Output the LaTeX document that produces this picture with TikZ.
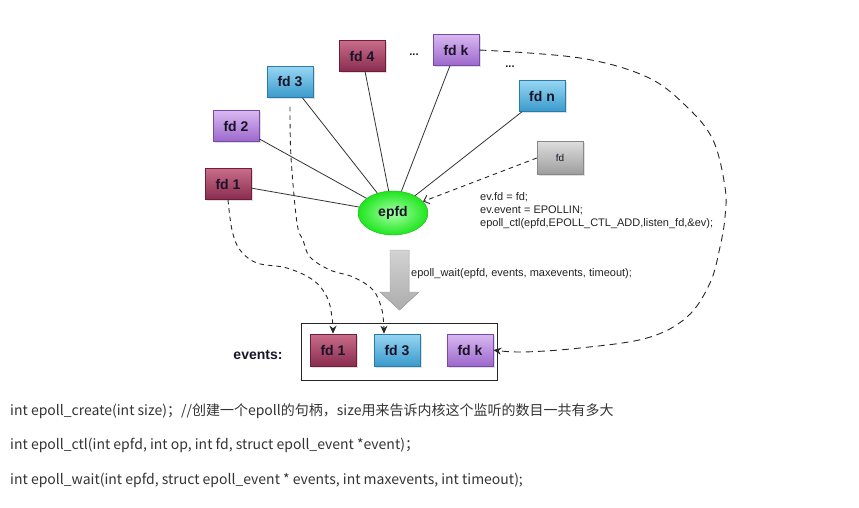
\documentclass[tikz,border=0pt]{standalone}
\usepackage{fontspec}
\setmainfont{Liberation Sans}
\newfontfamily\cjk{Noto Sans CJK SC}
\usetikzlibrary{arrows.meta,shapes.geometric,shadows}
\definecolor{marT}{HTML}{C96D8A}
\definecolor{marB}{HTML}{8A2C4E}
\definecolor{marD}{HTML}{6E1E3A}
\definecolor{purT}{HTML}{D9B8F0}
\definecolor{purB}{HTML}{9C68CC}
\definecolor{purD}{HTML}{7A48A8}
\definecolor{bluT}{HTML}{96D6F2}
\definecolor{bluB}{HTML}{3A9ACC}
\definecolor{bluD}{HTML}{2A7CA8}
\definecolor{gryT}{HTML}{DDDDDD}
\definecolor{gryB}{HTML}{9C9C9C}
\definecolor{gryD}{HTML}{888888}
\definecolor{txtc}{HTML}{1A1428}
\definecolor{linec}{HTML}{333333}
\definecolor{codec}{HTML}{222222}
\definecolor{bottomc}{HTML}{333333}
\definecolor{grnI}{HTML}{A8FFA8}
\definecolor{grnO}{HTML}{1EE61E}
\tikzset{
  fdbox/.style={draw, line width=0.6pt, minimum width=46pt, minimum height=31pt, inner sep=0pt,
    font=\fontsize{14}{16}\selectfont\bfseries, text=txtc,
    drop shadow={shadow xshift=1.5pt, shadow yshift=-1.5pt, opacity=0.25}},
  marbox/.style={fdbox, top color=marT, bottom color=marB, draw=marD},
  purbox/.style={fdbox, top color=purT, bottom color=purB, draw=purD},
  blubox/.style={fdbox, top color=bluT, bottom color=bluB, draw=bluD},
  grybox/.style={fdbox, minimum height=33pt, top color=gryT, bottom color=gryB, draw=gryD,
    font=\fontsize{10}{12}\selectfont},
  link/.style={draw=linec, line width=0.8pt},
  dashlink/.style={draw=black!85, line width=0.9pt, dash pattern=on 4.5pt off 4pt,
    -{Stealth[length=8pt,width=7pt]}},
  codetext/.style={font=\fontsize{11}{13}\selectfont, text=codec, align=left, inner sep=0pt},
  bottomtext/.style={font=\cjk\fontsize{14}{16}\selectfont, text=bottomc, anchor=west, inner sep=0pt},
  dots/.style={font=\fontsize{11}{12}\selectfont\bfseries, text=txtc, inner sep=0pt}
}
\begin{document}
\begin{tikzpicture}[x=1pt,y=-1pt]
\useasboundingbox (0,0) rectangle (859,507);
% source descriptors
\node[marbox] (fd4) at (362,56) {fd 4};
\node[purbox] (fdk) at (456,50) {fd k};
\node[blubox] (fd3) at (290,82) {fd 3};
\node[blubox] (fdn) at (542,96) {fd n};
\node[purbox] (fd2) at (236,126) {fd 2};
\node[marbox] (fd1) at (228,184) {fd 1};
\node[grybox] (fdg) at (560,158) {fd};
\node[dots] (dotsA) at (414,55) {...};
\node[dots] (dotsB) at (510,67) {...};
% epfd
\node[ellipse, minimum width=70pt, minimum height=44pt, inner sep=0pt, inner color=grnI, outer color=grnO,
  draw=grnO!80!black, line width=0.4pt, font=\fontsize{14}{16}\selectfont\bfseries, text=txtc] (epfd) at (393,213) {epfd};
% solid links
\draw[link] (epfd) -- (fd1);
\draw[link] (epfd) -- (fd2);
\draw[link] (epfd) -- (fd3);
\draw[link] (epfd) -- (fd4);
\draw[link] (epfd) -- (fdk);
\draw[link] (epfd) -- (fdn);
% new fd
\draw[draw=black!85, line width=0.9pt, dash pattern=on 4.5pt off 4pt, -{Straight Barb[length=5pt,width=9pt]}] (fdg.west) -- (epfd);
\node[codetext, anchor=north west] (code) at (480,192) {ev.fd = fd;\\ev.event = EPOLLIN;\\epoll\_ctl(epfd,EPOLL\_CTL\_ADD,listen\_fd,\&ev);};
% big arrow
\fill[top color=gray!35, bottom color=gray!65, draw=gray!70] (390,250) -- (409,250) -- (409,292) -- (419,292) -- (399.5,310) -- (380,292) -- (390,292) -- cycle;
\node[codetext, anchor=west] (waitlbl) at (411,274) {epoll\_wait(epfd, events, maxevents, timeout);};
% events array
\node[draw=black!85, line width=1pt, minimum width=196pt, minimum height=57pt, inner sep=0pt] (evbox) at (399,351.5) {};
\node[font=\fontsize{14}{16}\selectfont\bfseries, text=txtc, inner sep=0pt] (evlbl) at (258,355) {events:};
\node[marbox, minimum height=32pt] (ev1) at (333,350) {fd 1};
\node[blubox, minimum height=32pt] (ev3) at (397,350) {fd 3};
\node[purbox, minimum height=32pt] (evk) at (470,350) {fd k};
% dashed ready paths
\draw[dashlink] plot[smooth, tension=0.6] coordinates {(fd1.south) (232,230) (240,250) (257,263) (287,268) (313,280) (327,297) (332,317) (ev1.north)};
\draw[dashlink] plot[smooth, tension=0.6] coordinates {([yshift=-9pt]fd3.south) (291,157) (297,223) (303,240) (310,257) (330,270) (353,277) (373,290) (382,310) ([xshift=-13pt]ev3.north)};
\draw[dashlink, dash pattern=on 7pt off 5pt] plot[smooth, tension=0.6] coordinates {(fdk.east) (580,58) (647,77) (687,107) (713,140) (725,187) (725,217) (720,247) (710,283) (687,317) (647,338) (580,348) (523,352) (evk.east)};
% bottom text
\node[bottomtext] (l1) at (10,411) {int epoll\_create(int size)；//创建一个epoll的句柄，size用来告诉内核这个监听的数目一共有多大};
\node[bottomtext] (l2) at (10,445) {int epoll\_ctl(int epfd, int op, int fd, struct epoll\_event *event)；};
\node[bottomtext] (l3) at (10,480) {int epoll\_wait(int epfd, struct epoll\_event * events, int maxevents, int timeout);};
\end{tikzpicture}
\end{document}
